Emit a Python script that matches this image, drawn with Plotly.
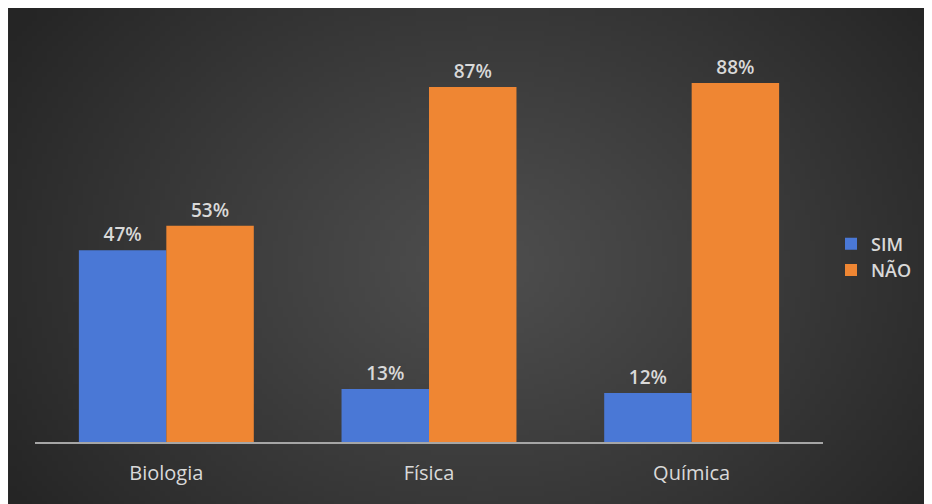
import base64, struct, zlib
import numpy as np
import plotly.graph_objects as go

categories = ["Biologia", "Física", "Química"]
sim_values = [47, 13, 12]
nao_values = [53, 87, 88]
series_names = ["SIM", "NÃO"]

# ---- radial background gradient as a small PNG ----
def make_png(arr):
    h, w = arr.shape[:2]
    raw = b"".join(b"\x00" + arr[i].tobytes() for i in range(h))
    def chunk(t, d):
        c = struct.pack(">I", len(d)) + t + d
        return c + struct.pack(">I", zlib.crc32(t + d) & 0xffffffff)
    png = b"\x89PNG\r\n\x1a\n"
    png += chunk(b"IHDR", struct.pack(">IIBBBBB", w, h, 8, 2, 0, 0, 0))
    png += chunk(b"IDAT", zlib.compress(raw, 9))
    png += chunk(b"IEND", b"")
    return "data:image/png;base64," + base64.b64encode(png).decode()

W, H = 184, 99
yy, xx = np.mgrid[0:H, 0:W]
cx, cy = W * 0.50, H * 0.50
r = np.sqrt(((xx - cx) / (W * 0.5)) ** 2 + ((yy - cy) / (H * 0.72)) ** 2) / 1.2
r = np.clip(r, 0, 1)
val = 78 - (78 - 37) * r ** 1.1
img = np.stack([val, val, val], axis=-1).astype(np.uint8)
bg_src = make_png(img)

# figure is placed 8px from page edges; plot area (figure px): x 27..815, y 26..434
FW, FH = 924, 496
L, R, T, B = 27, 109, 26, 62
pw, ph = FW - L - R, FH - T - B
def px_x(p):
    return (p - L) / pw
def px_y(p):
    return (FH - B - p) / ph

label_font = dict(color="#d9d9d9", size=19, family="Open Sans", weight=600)

fig = go.Figure()
fig.add_trace(go.Bar(
    name=series_names[0], x=categories, y=sim_values,
    marker=dict(color="#4a78d6", line=dict(width=0)),
    texttemplate="%{y}%", textposition="outside",
    textfont=label_font, cliponaxis=False,
))
fig.add_trace(go.Bar(
    name=series_names[1], x=categories, y=nao_values,
    marker=dict(color="#ef8633", line=dict(width=0)),
    texttemplate="%{y}%", textposition="outside",
    textfont=label_font, cliponaxis=False,
))

fig.add_layout_image(dict(
    source=bg_src, xref="paper", yref="paper",
    x=px_x(1), y=px_y(0),
    sizex=(px_x(FW) - px_x(1)) * 1.02, sizey=(px_y(0) - px_y(FH)) * 1.02,
    sizing="stretch", layer="below", xanchor="left", yanchor="top",
))

fig.update_layout(
    width=FW, height=FH,
    margin=dict(l=L, r=R, t=T, b=B),
    paper_bgcolor="#2a2a2a",
    plot_bgcolor="rgba(0,0,0,0)",
    barmode="group", bargap=0.334, bargroupgap=0,
    font=dict(family="Open Sans", color="#d9d9d9"),
    showlegend=True,
    legend=dict(
        x=px_x(823), y=px_y(249), xanchor="left", yanchor="middle",
        font=dict(size=18, color="#d9d9d9", weight=600),
        bgcolor="rgba(0,0,0,0)", itemwidth=30, tracegroupgap=0,
    ),
    xaxis=dict(
        showline=True, linecolor="#a6a6a6", linewidth=2,
        showgrid=False, ticks="", zeroline=False,
        tickfont=dict(size=20, color="#d9d9d9"),
        ticklabelstandoff=12,
    ),
    yaxis=dict(
        range=[0, 100], visible=False, showgrid=False, zeroline=False,
    ),
)

fig.write_html("out.html")
